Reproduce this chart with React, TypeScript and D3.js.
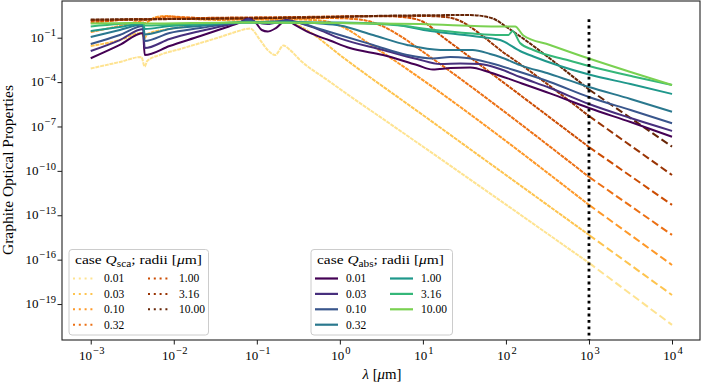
import React, { useRef, useEffect } from "react";
import * as d3 from "d3";

// Graphite Q_abs / Q_sca against wavelength, one curve per grain radius.
// Every point is [log10(lambda / um), log10(Q)].

const radii = ["0.01", "0.03", "0.10", "0.32", "1.00", "3.16", "10.00"];

const qabs001 = [[-3.00,-2.39],[-2.65,-1.49],[-2.37,-0.68],[-2.35,-2.17],[-2.05,-1.56],[-1.68,-0.89],[-1.41,-0.38],[-1.20,0.03],[-1.10,0.30],[-1.01,-0.01],[-0.94,-0.48],[-0.87,-0.58],[-0.77,-0.35],[-0.64,0.20],[-0.54,-0.14],[-0.36,-0.68],[-0.12,-1.19],[0.12,-1.70],[0.52,-2.17],[0.93,-2.85],[1.12,-3.15],[1.33,-3.05],[1.57,-3.01],[1.81,-3.35],[2.13,-3.97],[2.53,-4.76],[3.00,-5.75],[3.50,-6.70],[4.00,-7.69]];
const qabs003 = [[-3.00,-1.90],[-2.65,-1.16],[-2.37,-0.41],[-2.35,-1.70],[-2.05,-1.09],[-1.68,-0.55],[-1.41,-0.21],[-1.20,0.06],[-1.10,0.26],[-1.01,0.06],[-0.87,-0.08],[-0.64,0.20],[-0.48,-0.01],[-0.24,-0.48],[0.00,-1.05],[0.52,-1.83],[0.93,-2.44],[1.21,-2.78],[1.45,-2.74],[1.69,-2.78],[1.93,-3.12],[2.17,-3.66],[2.53,-4.40],[3.00,-5.48],[3.50,-6.43],[4.00,-7.30]];
const qabs010 = [[-3.00,-1.43],[-2.65,-0.82],[-2.37,-0.21],[-2.35,-1.22],[-2.05,-0.68],[-1.68,-0.35],[-1.41,-0.11],[-1.20,0.03],[-1.10,0.16],[-1.01,0.06],[-0.64,0.13],[-0.48,-0.01],[-0.24,-0.41],[0.00,-0.82],[0.40,-1.49],[0.81,-2.17],[1.12,-2.41],[1.33,-2.30],[1.53,-2.37],[1.81,-2.71],[2.17,-3.32],[2.53,-3.99],[3.00,-5.01],[3.50,-5.89],[4.00,-6.78]];
const qabs032 = [[-3.00,-0.95],[-2.65,-0.48],[-2.37,-0.11],[-2.35,-0.78],[-2.05,-0.41],[-1.68,-0.21],[-1.20,0.03],[-0.60,0.06],[-0.24,-0.04],[0.00,-0.18],[0.40,-0.82],[0.81,-1.49],[1.21,-1.83],[1.60,-1.83],[1.81,-2.10],[1.93,-2.30],[2.17,-2.85],[2.53,-3.45],[3.00,-4.33],[3.50,-5.14],[4.00,-6.00]];
const qabs100 = [[-3.00,-0.55],[-2.65,-0.28],[-2.37,-0.04],[-2.35,-0.41],[-2.05,-0.21],[-1.68,-0.11],[-1.20,0.03],[0.00,0.03],[0.60,-0.08],[1.09,-0.55],[1.60,-0.89],[1.93,-1.16],[2.17,-1.90],[2.33,-2.27],[3.00,-3.49],[3.50,-4.13],[4.00,-4.80]];
const qabs316 = [[-3.00,-0.24],[-2.37,-0.01],[-2.35,-0.18],[-1.68,-0.04],[-1.20,0.03],[0.00,-0.01],[0.73,-0.18],[1.00,-0.38],[1.60,-0.72],[1.93,-0.82],[2.03,-0.82],[2.08,-0.55],[2.17,-1.36],[2.33,-1.83],[2.74,-2.51],[3.00,-2.91],[3.53,-3.62],[4.00,-4.20]];
const qabs1000 = [[-3.00,-0.04],[-2.37,-0.01],[-2.35,-0.04],[-1.20,0.03],[0.00,-0.01],[0.97,-0.08],[1.93,-0.24],[2.11,-0.24],[2.21,-0.85],[2.53,-1.49],[3.00,-2.41],[3.50,-3.32],[4.00,-4.20]];

const qsca001 = [[-3.00,-3.08],[-2.65,-2.64],[-2.39,-2.30],[-2.35,-2.95],[-2.32,-2.57],[-2.17,-2.17],[-1.92,-1.76],[-1.68,-1.36],[-1.44,-0.95],[-1.26,-0.62],[-1.08,-0.38],[-0.96,-1.16],[-0.87,-1.83],[-0.78,-2.17],[-0.68,-1.53],[-0.60,-1.83],[-0.48,-2.51],[-0.15,-3.86],[0.12,-4.94],[0.60,-6.80],[3.00,-16.22],[4.00,-20.41]];
const qsca003 = [[-3.00,-1.56],[-2.65,-1.16],[-2.39,-0.68],[-2.35,-1.02],[-2.32,-0.75],[-2.05,-0.41],[-1.68,-0.14],[-1.20,0.06],[-0.72,0.13],[-0.54,-0.08],[-0.36,-0.62],[0.00,-2.17],[1.05,-6.43],[3.00,-14.33],[4.00,-18.39]];
const qsca010 = [[-3.00,-0.62],[-2.65,-0.21],[-2.39,0.09],[-2.35,-0.01],[-2.23,0.36],[-2.10,0.47],[-1.86,0.30],[-1.44,0.20],[-0.96,0.26],[-0.48,0.23],[-0.18,0.13],[0.06,-0.35],[0.36,-1.43],[3.00,-12.30],[4.00,-16.36]];
const qsca032 = [[-3.00,-0.01],[-2.39,0.26],[-2.35,0.20],[-2.05,0.43],[-1.68,0.33],[-0.96,0.30],[-0.12,0.33],[0.24,0.23],[0.48,-0.14],[0.73,-0.89],[0.97,-1.83],[3.00,-10.41],[4.00,-14.33]];
const qsca100 = [[-3.00,0.13],[-1.68,0.33],[-0.48,0.40],[0.48,0.47],[0.85,0.33],[1.03,-0.01],[1.21,-0.82],[1.45,-1.83],[3.00,-8.39],[4.00,-12.30]];
const qsca316 = [[-3.00,0.20],[-0.48,0.36],[0.97,0.47],[1.27,0.40],[1.45,0.13],[1.69,-0.75],[1.93,-1.83],[2.17,-2.78],[3.00,-6.29],[4.00,-10.28]];
const qsca1000 = [[-3.00,0.23],[-0.48,0.36],[0.73,0.50],[1.57,0.53],[1.75,0.43],[1.87,0.23],[1.99,-0.21],[3.00,-4.50],[4.00,-8.36]];

const qabsCurves = [qabs001, qabs003, qabs010, qabs032, qabs100, qabs316, qabs1000];
const qscaCurves = [qsca001, qsca003, qsca010, qsca032, qsca100, qsca316, qsca1000];

// beyond this wavelength (log10 um) the scattering curves are extrapolated
const extrapFrom = 3;
// the dotted marker line at 1 mm
const markerLambda = 1e3;

const xMajorExps = [-3, -2, -1, 0, 1, 2, 3, 4];
const yMajorExps = [-1, -4, -7, -10, -13, -16, -19];

const W = 702;
const H = 383;
const box = { left: 62, right: 700, top: 1, bottom: 340 };
const FONT = "'Liberation Serif', 'DejaVu Serif', serif";

const absColors = radii.map((_, i) => d3.interpolateViridis((i * 0.8) / 6));
const scaColors = d3.schemeYlOrBr[9].slice(2);

const sup = (e: number) => (e < 0 ? "\u2212" + -e : String(e));

const App = () => {
  const svgRef = useRef<SVGSVGElement>(null);

  useEffect(() => {
    const svg = d3.select(svgRef.current);
    svg.selectAll("*").remove();

    const x = d3.scaleLog().domain([10 ** -3.346, 10 ** 4.337]).range([box.left, box.right]);
    const y = d3.scaleLog().domain([10 ** -21.43, 10 ** 1.48]).range([box.bottom, box.top]);

    svg.append("rect").attr("width", W).attr("height", H).attr("fill", "#fff");

    svg.append("clipPath").attr("id", "plotclip")
      .append("rect")
      .attr("x", box.left).attr("y", box.top)
      .attr("width", box.right - box.left).attr("height", box.bottom - box.top);

    const line = d3.line<number[]>()
      .x((d) => x(10 ** d[0]))
      .y((d) => y(10 ** d[1]))
      .curve(d3.curveMonotoneX);

    const plot = svg.append("g").attr("clip-path", "url(#plotclip)");

    // scattering: dotted where computed, dashed where extrapolated
    qscaCurves.forEach((c, i) => {
      plot.append("path")
        .attr("d", line(c.filter((p) => p[0] <= extrapFrom)))
        .attr("fill", "none")
        .attr("stroke", scaColors[i])
        .attr("stroke-width", 2)
        .attr("stroke-dasharray", "4,0.8");
      plot.append("path")
        .attr("d", line(c.filter((p) => p[0] >= extrapFrom)))
        .attr("fill", "none")
        .attr("stroke", scaColors[i])
        .attr("stroke-width", 2)
        .attr("stroke-dasharray", "7.5,3.5");
    });

    // absorption: solid
    qabsCurves.forEach((c, i) => {
      plot.append("path")
        .attr("d", line(c))
        .attr("fill", "none")
        .attr("stroke", absColors[i])
        .attr("stroke-width", 2)
        .attr("stroke-linejoin", "round");
    });

    // vertical marker
    plot.append("line")
      .attr("x1", x(markerLambda)).attr("x2", x(markerLambda))
      .attr("y1", y(10 ** 0.25)).attr("y2", box.bottom)
      .attr("stroke", "#000")
      .attr("stroke-width", 2.8)
      .attr("stroke-dasharray", "2.8,3.6");

    // power-of-ten label: base "10" plus a raised exponent
    const powLabel = (px: number, py: number, e: number, anchor: string) => {
      const t = svg.append("text")
        .attr("x", px).attr("y", py)
        .attr("text-anchor", anchor)
        .attr("font-family", FONT)
        .attr("font-size", 13)
        .attr("fill", "#000");
      t.append("tspan").text("10");
      t.append("tspan").attr("dx", 1.2).attr("dy", -5.5).attr("font-size", 10.5).text(sup(e));
    };

    // x axis
    const [x0, x1] = x.domain();
    const xMinor: number[] = [];
    for (let e = -4; e <= 4; e++) {
      for (let k = 2; k <= 9; k++) {
        const v = k * 10 ** e;
        if (v > x0 && v < x1) xMinor.push(v);
      }
    }
    const gx = svg.append("g").attr("transform", `translate(0,${box.bottom})`);
    gx.call(d3.axisBottom(x).tickValues(xMinor).tickSize(2.5).tickFormat(() => ""));
    gx.call(d3.axisBottom(x).tickValues(xMajorExps.map((e) => 10 ** e)).tickSize(4.5).tickFormat(() => ""));
    gx.selectAll(".domain").remove();
    gx.selectAll("line").attr("stroke", "#000").attr("stroke-width", 0.9);

    xMajorExps.forEach((e) => powLabel(x(10 ** e) + 1, 359.5, e, "middle"));

    // y axis
    const gy = svg.append("g").attr("transform", `translate(${box.left},0)`);
    gy.call(d3.axisLeft(y).tickValues(yMajorExps.map((e) => 10 ** e)).tickSize(4.5).tickFormat(() => ""));
    gy.selectAll(".domain").remove();
    gy.selectAll("line").attr("stroke", "#000").attr("stroke-width", 0.9);

    yMajorExps.forEach((e) => powLabel(56, y(10 ** e) + 4.2, e, "end"));

    // frame
    svg.append("rect")
      .attr("x", box.left).attr("y", box.top)
      .attr("width", box.right - box.left).attr("height", box.bottom - box.top)
      .attr("fill", "none").attr("stroke", "#222").attr("stroke-width", 1.1);

    // axis labels
    const xl = svg.append("text")
      .attr("x", 382).attr("y", 379)
      .attr("text-anchor", "middle")
      .attr("font-family", FONT).attr("font-size", 14).attr("fill", "#000")
      .attr("textLength", 39).attr("lengthAdjust", "spacingAndGlyphs");
    xl.append("tspan").attr("font-style", "italic").text("\u03bb");
    xl.append("tspan").text(" [");
    xl.append("tspan").attr("font-style", "italic").text("\u03bc");
    xl.append("tspan").text("m]");

    svg.append("text")
      .attr("transform", "translate(12.5,170) rotate(-90)")
      .attr("text-anchor", "middle")
      .attr("font-family", FONT).attr("font-size", 14).attr("fill", "#000")
      .attr("textLength", 170).attr("lengthAdjust", "spacingAndGlyphs")
      .text("Graphite Optical Properties");

    // legends
    const legend = (left: number, width: number, sub: string, colors: string[], dash: string, sw: number) => {
      const g = svg.append("g");
      g.append("rect")
        .attr("x", left).attr("y", 249.5)
        .attr("width", width).attr("height", 85.5)
        .attr("rx", 3)
        .attr("fill", "#fff").attr("fill-opacity", 0.8)
        .attr("stroke", "#ccc").attr("stroke-width", 1);
      const t = g.append("text")
        .attr("x", left + 6).attr("y", 263.5)
        .attr("font-family", FONT).attr("font-size", 13).attr("fill", "#000")
        .attr("textLength", 127).attr("lengthAdjust", "spacingAndGlyphs");
      t.append("tspan").text("case ");
      t.append("tspan").attr("font-style", "italic").text("Q");
      t.append("tspan").attr("dy", 3).attr("font-size", 9.5).text(sub);
      t.append("tspan").attr("dy", -3).text("; radii [");
      t.append("tspan").attr("font-style", "italic").text("\u03bc");
      t.append("tspan").text("m]");

      radii.forEach((r, i) => {
        const col = i < 4 ? 0 : 1;
        const row = i < 4 ? i : i - 4;
        const hx = left + 4 + col * 75;
        const cy = 278.5 + row * 15.4;
        g.append("line")
          .attr("x1", hx).attr("x2", hx + 23)
          .attr("y1", cy).attr("y2", cy)
          .attr("stroke", colors[i]).attr("stroke-width", sw)
          .attr("stroke-dasharray", dash);
        g.append("text")
          .attr("x", hx + 31).attr("y", cy + 3.8)
          .attr("font-family", FONT).attr("font-size", 11.5).attr("fill", "#000")
          .text(r);
      });
    };
    legend(69, 139.5, "sca", scaColors, "2,3.8", 2);
    legend(311, 141.5, "abs", absColors, "none", 2.2);
  }, []);

  return (
    <svg
      ref={svgRef}
      width={W}
      height={H}
      style={{ position: "absolute", left: 0, top: 0, display: "block" }}
    />
  );
};

export default App;
